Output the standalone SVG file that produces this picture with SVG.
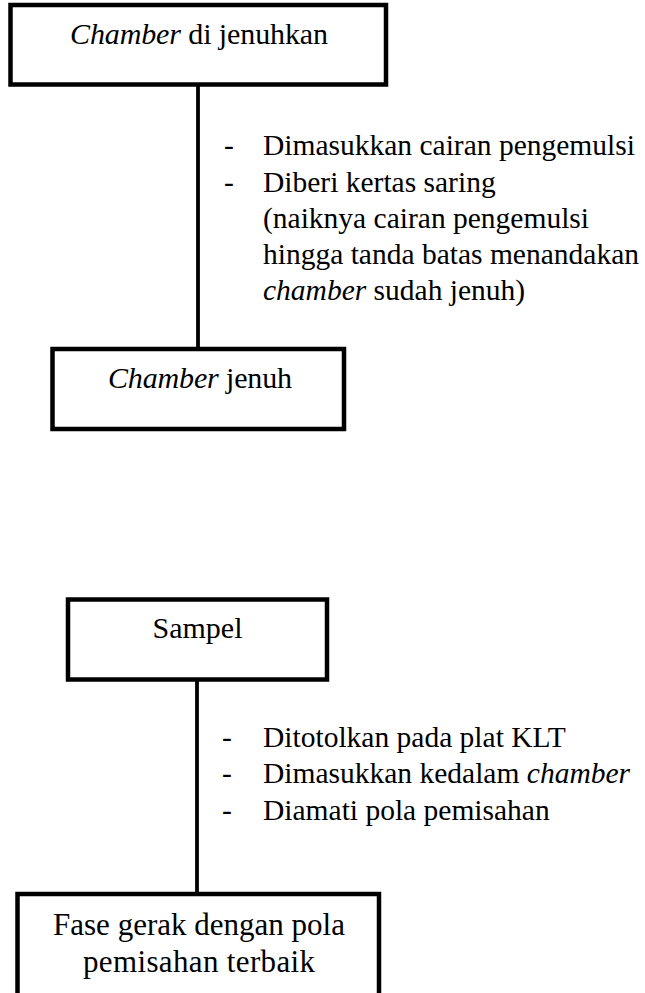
<svg xmlns="http://www.w3.org/2000/svg" width="645" height="993" viewBox="0 0 645 993">
<style>
.box{fill:#fff;stroke:#000;stroke-width:4.5}
.ln{stroke:#000;stroke-width:3.8;fill:none}
.bt{font-family:"Liberation Serif","Times New Roman",serif;font-size:30px;fill:#000}
.bt4{font-family:"Liberation Serif","Times New Roman",serif;font-size:31px;fill:#000}
.st{font-family:"Liberation Serif","Times New Roman",serif;font-size:29.5px;fill:#000}
.it{font-style:italic}
</style>
<rect width="645" height="993" fill="#fff"/>
<g id="connectors">
<line class="ln" x1="198" y1="86" x2="198" y2="348"/>
<line class="ln" x1="197" y1="680" x2="197" y2="893"/>
</g>
<g id="node-chamber-dijenuhkan">
<rect class="box" x="10.5" y="5" width="375.5" height="79.5"/>
<text class="bt" x="70" y="44" textLength="258" lengthAdjust="spacing"><tspan class="it">Chamber</tspan> di jenuhkan</text>
</g>
<g id="label-1">
<text class="st" x="224" y="155">-</text>
<text class="st" x="263" y="155">Dimasukkan cairan pengemulsi</text>
<text class="st" x="224" y="191.5">-</text>
<text class="st" x="263" y="191.5">Diberi kertas saring</text>
<text class="st" x="263" y="227.7">(naiknya cairan pengemulsi</text>
<text class="st" x="263" y="263.5">hingga tanda batas menandakan</text>
<text class="st" x="263" y="300"><tspan class="it">chamber</tspan> sudah jenuh)</text>
</g>
<g id="node-chamber-jenuh">
<rect class="box" x="52.5" y="349" width="291.5" height="80"/>
<text class="bt" x="108" y="388" textLength="184" lengthAdjust="spacing"><tspan class="it">Chamber</tspan> jenuh</text>
</g>
<g id="node-sampel">
<rect class="box" x="68" y="599.5" width="259" height="80"/>
<text class="bt" x="197.5" y="638" text-anchor="middle">Sampel</text>
</g>
<g id="label-2">
<text class="st" x="222" y="746.7">-</text>
<text class="st" x="263" y="746.7">Ditotolkan pada plat KLT</text>
<text class="st" x="222" y="783.3">-</text>
<text class="st" x="263" y="783.3">Dimasukkan kedalam <tspan class="it">chamber</tspan></text>
<text class="st" x="222" y="820">-</text>
<text class="st" x="263" y="820">Diamati pola pemisahan</text>
</g>
<g id="node-fase-gerak">
<rect class="box" x="17.5" y="894" width="361.5" height="120"/>
<text class="bt4" x="53" y="935" textLength="292" lengthAdjust="spacing">Fase gerak dengan pola</text>
<text class="bt4" x="83" y="972" textLength="232" lengthAdjust="spacing">pemisahan terbaik</text>
</g>
</svg>
